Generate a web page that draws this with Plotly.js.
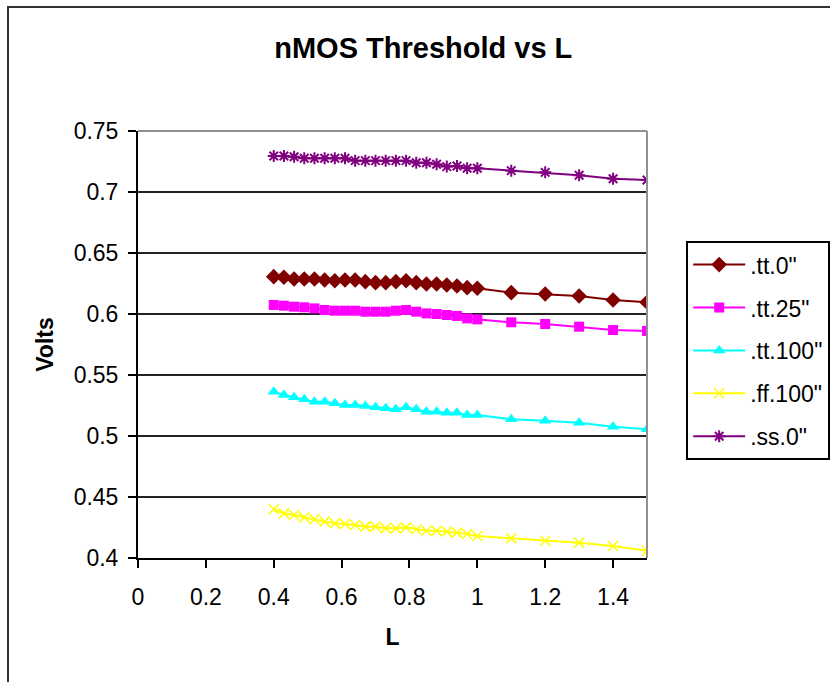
<!DOCTYPE html>
<html>
<head>
<meta charset="utf-8">
<script src="https://cdn.plot.ly/plotly-3.0.1.min.js"></script>
<style>
  html, body { margin: 0; padding: 0; background: #fff; overflow: hidden; }
  #wrap { position: relative; width: 830px; height: 682px; overflow: hidden; }
  #chart { position: absolute; left: 0; top: 0; width: 830px; height: 682px; }
  #frame { position: absolute; left: 7px; top: 6px; width: 900px; height: 760px;
           border: 2px solid #333; pointer-events: none; box-sizing: border-box; }
</style>
</head>
<body>
<div id="wrap">
  <div id="chart"></div>
  <div id="frame"></div>
</div>
<script>
// Channel length L (x values)
const L = [0.4, 0.43, 0.46, 0.49, 0.52, 0.55, 0.58, 0.61, 0.64, 0.67, 0.7,
           0.73, 0.76, 0.79, 0.82, 0.85, 0.88, 0.91, 0.94, 0.97, 1.0,
           1.1, 1.2, 1.3, 1.4, 1.5];

// Threshold voltages (Volts) per corner
const tt0 = [0.6306, 0.6301, 0.6287, 0.6287, 0.6287, 0.6279, 0.6273, 0.6279, 0.6279, 0.6265, 0.6257,
             0.6257, 0.6265, 0.6273, 0.6257, 0.6246, 0.6246, 0.6238, 0.6230, 0.6216, 0.6211,
             0.6175, 0.6164, 0.6148, 0.6115, 0.6096];
const tt25 = [0.6074, 0.6068, 0.6060, 0.6055, 0.6046, 0.6033, 0.6027, 0.6027, 0.6027, 0.6019, 0.6019,
              0.6019, 0.6027, 0.6033, 0.6019, 0.6005, 0.6000, 0.5992, 0.5984, 0.5964, 0.5956,
              0.5932, 0.5918, 0.5896, 0.5869, 0.5861];
const tt100 = [0.5363, 0.5336, 0.5317, 0.5301, 0.5281, 0.5281, 0.5268, 0.5254, 0.5254, 0.5246, 0.5235,
               0.5227, 0.5219, 0.5235, 0.5219, 0.5199, 0.5199, 0.5191, 0.5191, 0.5172, 0.5172,
               0.5137, 0.5126, 0.5109, 0.5076, 0.5055];
const ff100 = [0.4399, 0.4366, 0.4352, 0.4333, 0.4317, 0.4298, 0.4284, 0.4279, 0.4270, 0.4257, 0.4257,
               0.4243, 0.4243, 0.4251, 0.4235, 0.4224, 0.4224, 0.4216, 0.4208, 0.4197, 0.4180,
               0.4161, 0.4142, 0.4126, 0.4098, 0.4060];
const ss0 = [0.7295, 0.7295, 0.7289, 0.7276, 0.7276, 0.7276, 0.7276, 0.7276, 0.7257, 0.7257, 0.7257,
             0.7257, 0.7257, 0.7257, 0.7240, 0.7240, 0.7227, 0.7208, 0.7213, 0.7194, 0.7194,
             0.7175, 0.7161, 0.7137, 0.7109, 0.7098];

const seriesNames = ['.tt.0"', '.tt.25"', '.tt.100"', '.ff.100"', '.ss.0"'];

// Tick labels
const yTickVals = [0.4, 0.45, 0.5, 0.55, 0.6, 0.65, 0.7, 0.75];
const yTickText = ['0.4', '0.45', '0.5', '0.55', '0.6', '0.65', '0.7', '0.75'];
const xTickVals = [0, 0.2, 0.4, 0.6, 0.8, 1, 1.2, 1.4];
const xTickText = ['0', '0.2', '0.4', '0.6', '0.8', '1', '1.2', '1.4'];

const FONT = '"Liberation Sans", Arial, sans-serif';

function trace(name, y, color, symbol, size, lineW, open) {
  return {
    type: 'scatter', mode: 'lines+markers', name: name, x: L, y: y,
    legendgroup: name,
    line: { color: color, width: 2 },
    marker: open
      ? { symbol: symbol, size: size, color: color, line: { color: color, width: lineW } }
      : { symbol: symbol, size: size, color: color, line: { width: 0 } }
  };
}

const data = [
  trace(seriesNames[0], tt0, '#800000', 'diamond', 12, 0, false),
  trace(seriesNames[1], tt25, '#FF00FF', 'square', 10, 0, false),
  trace(seriesNames[2], tt100, '#00FFFF', 'triangle-up', 11, 0, false),
  trace(seriesNames[3], ff100, '#FFFF00', 'x-thin-open', 10, 1.5, true),
  trace(seriesNames[4], ss0, '#800080', 'asterisk-open', 10, 2, true)
];

const layout = {
  width: 830, height: 682,
  margin: { l: 138, r: 183, t: 131, b: 124, autoexpand: false },
  paper_bgcolor: 'rgba(0,0,0,0)',
  plot_bgcolor: '#fff',
  font: { family: FONT, color: '#000', size: 23 },
  title: {
    text: '<b>nMOS Threshold vs L</b>',
    font: { family: FONT, size: 29, color: '#000' },
    x: 0.51, xref: 'container', xanchor: 'center',
    y: 0.93, yref: 'container', yanchor: 'middle'
  },
  showlegend: true,
  legend: {
    x: 1.077, xanchor: 'left', y: 0.742, yanchor: 'top',
    bgcolor: '#fff', bordercolor: '#000', borderwidth: 2,
    font: { family: FONT, size: 23, color: '#000' },
    traceorder: 'grouped', tracegroupgap: 10,
    itemwidth: 52
  },
  xaxis: {
    range: [0, 1.5], tickvals: xTickVals, ticktext: xTickText,
    showgrid: false, zeroline: false,
    showline: true, linecolor: '#000', linewidth: 2,
    ticks: 'outside', ticklen: 8, tickwidth: 2, tickcolor: '#000',
    ticklabelstandoff: 9,
    tickfont: { family: FONT, size: 23, color: '#000' },
    title: { text: '<b>L</b>', font: { family: FONT, size: 23, color: '#000' }, standoff: 20 }
  },
  yaxis: {
    range: [0.4, 0.75], tickvals: yTickVals, ticktext: yTickText,
    showgrid: true, gridcolor: '#222', gridwidth: 1.5,
    zeroline: false,
    showline: true, linecolor: '#000', linewidth: 2,
    ticks: 'outside', ticklen: 8, tickwidth: 2, tickcolor: '#000',
    ticklabelstandoff: 5,
    tickfont: { family: FONT, size: 23, color: '#000' },
    title: { text: '<b>Volts</b>', font: { family: FONT, size: 23, color: '#000' }, standoff: 14 }
  },
  shapes: [
    { type: 'line', xref: 'paper', yref: 'paper', x0: 0, x1: 1, y0: 1, y1: 1,
      line: { color: '#909090', width: 2 } },
    { type: 'line', xref: 'paper', yref: 'paper', x0: 1, x1: 1, y0: 0, y1: 1,
      line: { color: '#909090', width: 2 } }
  ]
};

Plotly.newPlot('chart', data, layout, { displayModeBar: false, staticPlot: true });
</script>
</body>
</html>
